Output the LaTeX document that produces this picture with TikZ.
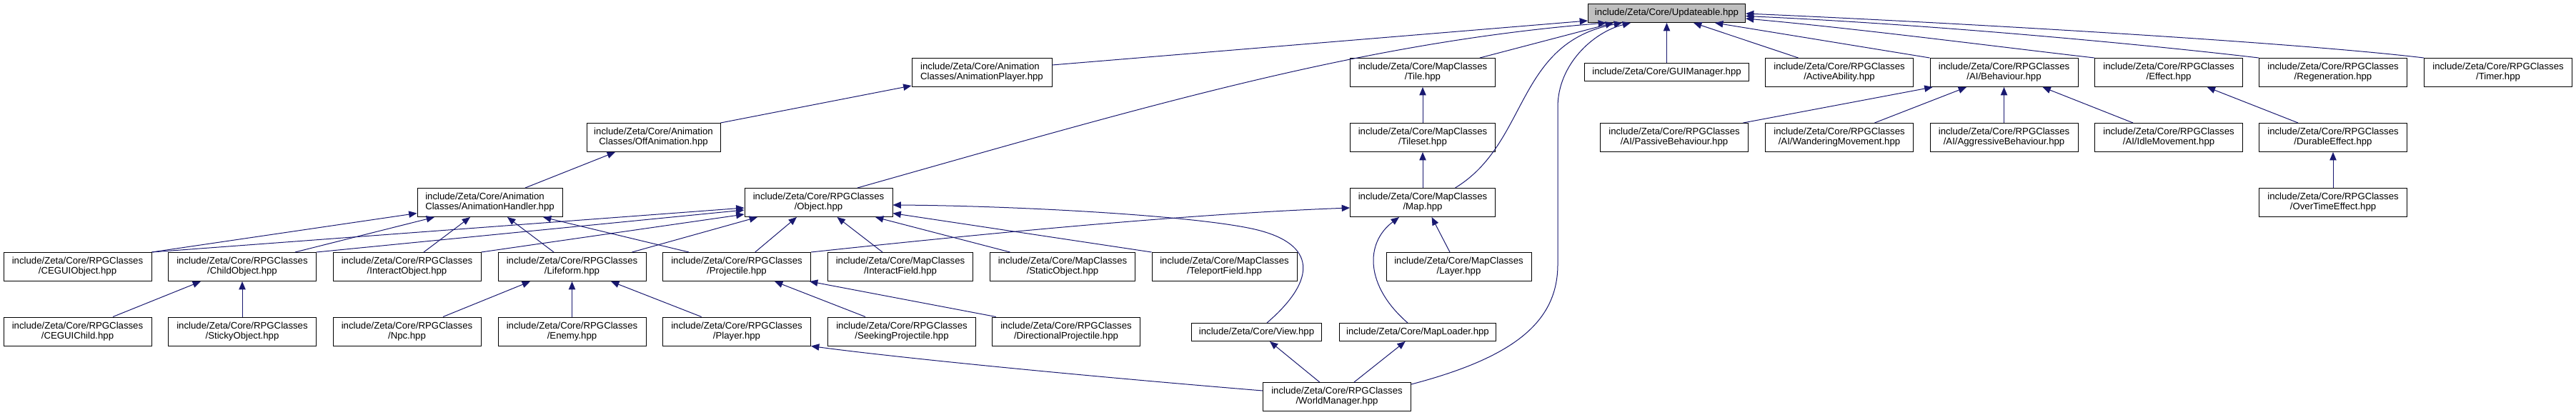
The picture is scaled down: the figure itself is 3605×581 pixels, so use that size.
\documentclass[tikz,border=0pt]{standalone}
\usepackage{fontspec}
\setmainfont{Liberation Sans}
\usetikzlibrary{arrows.meta}
\definecolor{edgeblue}{HTML}{191970}
\definecolor{rootgray}{HTML}{BFBFBF}
\begin{document}
\begin{tikzpicture}[x=0.75pt,y=-0.75pt,
  box/.style={draw=black, line width=0.75pt, fill=white, inner sep=0pt,
    minimum height=30pt, align=center, anchor=north west,
    font=\fontsize{9.9pt}{10.5pt}\selectfont},
  wa/.style={minimum width=155.25pt},
  wb/.style={minimum width=152.25pt},
  one/.style={minimum height=18.75pt},
  edge/.style={draw=edgeblue, line width=0.75pt, -{Triangle[length=8.5pt,width=7pt]}}
]
\useasboundingbox (0,0) rectangle (3605,581);
% row 0
\node[box,minimum width=165pt,minimum height=19.5pt,fill=rootgray] (upd) at (2222,5) {include/Zeta/Core/Updateable.hpp};
% row 1
\node[box,minimum width=147pt,align=left] (animplayer) at (1275.5,81) {include/Zeta/Core/Animation\\Classes/AnimationPlayer.hpp};
\node[box,wb] (tile) at (1889,81) {include/Zeta/Core/MapClasses\\/Tile.hpp};
\node[box,minimum width=172.5pt,one] (gui) at (2217,88) {include/Zeta/Core/GUIManager.hpp};
\node[box,wa] (active) at (2470,81) {include/Zeta/Core/RPGClasses\\/ActiveAbility.hpp};
\node[box,wa] (behav) at (2700.5,81) {include/Zeta/Core/RPGClasses\\/AI/Behaviour.hpp};
\node[box,wa] (effect) at (2931,81) {include/Zeta/Core/RPGClasses\\/Effect.hpp};
\node[box,wa] (regen) at (3161,81) {include/Zeta/Core/RPGClasses\\/Regeneration.hpp};
\node[box,wa] (timer) at (3392,81) {include/Zeta/Core/RPGClasses\\/Timer.hpp};
% row 2
\node[box,minimum width=140.25pt] (offanim) at (820.5,172) {include/Zeta/Core/Animation\\Classes/OffAnimation.hpp};
\node[box,wb] (tileset) at (1889,172) {include/Zeta/Core/MapClasses\\/Tileset.hpp};
\node[box,wa] (passive) at (2239,172) {include/Zeta/Core/RPGClasses\\/AI/PassiveBehaviour.hpp};
\node[box,wa] (wander) at (2470,172) {include/Zeta/Core/RPGClasses\\/AI/WanderingMovement.hpp};
\node[box,wa] (aggr) at (2700.5,172) {include/Zeta/Core/RPGClasses\\/AI/AggressiveBehaviour.hpp};
\node[box,wa] (idle) at (2931,172) {include/Zeta/Core/RPGClasses\\/AI/IdleMovement.hpp};
\node[box,wa] (durable) at (3161,172) {include/Zeta/Core/RPGClasses\\/DurableEffect.hpp};
% row 3
\node[box,wb,align=left] (animhandler) at (583.5,263) {include/Zeta/Core/Animation\\Classes/AnimationHandler.hpp};
\node[box,wa] (object) at (1041.5,263) {include/Zeta/Core/RPGClasses\\/Object.hpp};
\node[box,wb] (map) at (1889,263) {include/Zeta/Core/MapClasses\\/Map.hpp};
\node[box,wa] (overtime) at (3161,263) {include/Zeta/Core/RPGClasses\\/OverTimeEffect.hpp};
% row 4
\node[box,wa] (ceguiobj) at (4.5,353) {include/Zeta/Core/RPGClasses\\/CEGUIObject.hpp};
\node[box,wa] (childobj) at (235,353) {include/Zeta/Core/RPGClasses\\/ChildObject.hpp};
\node[box,wa] (interactobj) at (465.5,353) {include/Zeta/Core/RPGClasses\\/InteractObject.hpp};
\node[box,wa] (lifeform) at (696.5,353) {include/Zeta/Core/RPGClasses\\/Lifeform.hpp};
\node[box,wa] (projectile) at (927,353) {include/Zeta/Core/RPGClasses\\/Projectile.hpp};
\node[box,wb] (interactfield) at (1158,353) {include/Zeta/Core/MapClasses\\/InteractField.hpp};
\node[box,wb] (staticobj) at (1385,353) {include/Zeta/Core/MapClasses\\/StaticObject.hpp};
\node[box,wb] (teleport) at (1611.5,353) {include/Zeta/Core/MapClasses\\/TeleportField.hpp};
\node[box,wb] (layer) at (1939.5,353) {include/Zeta/Core/MapClasses\\/Layer.hpp};
% row 5
\node[box,wa] (ceguichild) at (4.5,443.5) {include/Zeta/Core/RPGClasses\\/CEGUIChild.hpp};
\node[box,wa] (sticky) at (235,443.5) {include/Zeta/Core/RPGClasses\\/StickyObject.hpp};
\node[box,wa] (npc) at (465.5,443.5) {include/Zeta/Core/RPGClasses\\/Npc.hpp};
\node[box,wa] (enemy) at (696.5,443.5) {include/Zeta/Core/RPGClasses\\/Enemy.hpp};
\node[box,wa] (player) at (927,443.5) {include/Zeta/Core/RPGClasses\\/Player.hpp};
\node[box,wa] (seeking) at (1158,443.5) {include/Zeta/Core/RPGClasses\\/SeekingProjectile.hpp};
\node[box,wa] (directional) at (1388,443.5) {include/Zeta/Core/RPGClasses\\/DirectionalProjectile.hpp};
\node[box,minimum width=136.5pt,one] (view) at (1667,452) {include/Zeta/Core/View.hpp};
\node[box,minimum width=164.25pt,one] (maploader) at (1874,452) {include/Zeta/Core/MapLoader.hpp};
% row 6
\node[box,wa] (world) at (1767,535) {include/Zeta/Core/RPGClasses\\/WorldManager.hpp};

% edges into Updateable
\draw[edge] ([shift={(0,10)}]animplayer.north east) -- ([shift={(0,24)}]upd.north west);
\draw[edge] ([shift={(158.5,0)}]object.north west) .. controls (1600,150) and (1900,60) .. ([shift={(26,0)}]upd.south west);
\draw[edge] ([shift={(182,0)}]tile.north west) -- ([shift={(36,0)}]upd.south west);
\draw[edge] ([shift={(147.5,0)}]map.north west) .. controls (2140,200) and (2120,60) .. ([shift={(48,0)}]upd.south west);
\draw[edge] ([shift={(0,3)}]world.north east) .. controls (2120,500) and (2180,450) .. (2180,370) -- (2180,150) .. controls (2180,90) and (2230,45) .. ([shift={(60,0)}]upd.south west);
\draw[edge] (gui.north) -- (upd.south);
\draw[edge] ([shift={(46.6,0)}]active.north west) -- ([shift={(148,0)}]upd.south west);
\draw[edge] (behav.north west) -- ([shift={(178,0)}]upd.south west);
\draw[edge] (effect.north west) .. controls (2800,66) and (2600,40) .. ([shift={(0,21)}]upd.north east);
\draw[edge] (regen.north west) .. controls (3000,62) and (2700,34) .. ([shift={(0,17.5)}]upd.north east);
\draw[edge] (timer.north west) .. controls (3200,58) and (2700,30) .. ([shift={(0,14)}]upd.north east);
% animation classes
\draw[edge] (offanim.north east) -- ([shift={(0,-2)}]animplayer.south west);
\draw[edge] ([shift={(151.5,0)}]animhandler.north west) -- ([shift={(40.5,0)}]offanim.south west);
\draw[edge] (ceguiobj.north east) -- ([shift={(0,35.5)}]animhandler.north west);
\draw[edge] ([shift={(178,0)}]childobj.north west) -- ([shift={(24.5,0)}]animhandler.south west);
\draw[edge] ([shift={(127.5,0)}]interactobj.north west) -- ([shift={(74.5,0)}]animhandler.south west);
\draw[edge] ([shift={(78.5,0)}]lifeform.north west) -- ([shift={(126.5,0)}]animhandler.south west);
\draw[edge] ([shift={(37,0)}]projectile.north west) -- ([shift={(176.5,0)}]animhandler.south west);
% into Object
\draw[edge] (ceguiobj.north east) -- ([shift={(0,28)}]object.north west);
\draw[edge] (childobj.north east) -- ([shift={(0,31)}]object.north west);
\draw[edge] (interactobj.north east) -- ([shift={(0,37)}]object.north west);
\draw[edge] ([shift={(188,0)}]lifeform.north west) -- ([shift={(18.5,0)}]object.south west);
\draw[edge] ([shift={(129.7,0)}]projectile.north west) -- ([shift={(73.5,0)}]object.south west);
\draw[edge] ([shift={(77,0)}]interactfield.north west) -- ([shift={(130,0)}]object.south west);
\draw[edge] ([shift={(28.5,0)}]staticobj.north west) -- ([shift={(183.5,0)}]object.south west);
\draw[edge] (teleport.north west) -- ([shift={(0,35.6)}]object.north east);
\draw[edge] ([shift={(106,0)}]view.north west) .. controls (1845,390) and (1840,342) .. (1760,322) .. controls (1680,302) and (1420,288) .. ([shift={(0,24)}]object.north east);
\draw[edge] (projectile.north east) .. controls (1350,330) and (1650,300) .. ([shift={(0,28)}]map.north west);
% lower rows
\draw[edge] ([shift={(153.5,0)}]ceguichild.north west) -- ([shift={(46,0)}]childobj.south west);
\draw[edge] (sticky.north) -- (childobj.south);
\draw[edge] ([shift={(154.5,0)}]npc.north west) -- ([shift={(45.5,0)}]lifeform.south west);
\draw[edge] (enemy.north) -- (lifeform.south);
\draw[edge] ([shift={(54.6,0)}]player.north west) -- ([shift={(158.5,0)}]lifeform.south west);
\draw[edge] ([shift={(53,0)}]seeking.north west) -- ([shift={(157,0)}]projectile.south west);
\draw[edge] ([shift={(5.7,0)}]directional.north west) -- ([shift={(-2,0)}]projectile.south east);
\draw[edge] ([shift={(0,12)}]world.north west) .. controls (1500,525) and (1250,500) .. (player.south east);
\draw[edge] ([shift={(79.7,0)}]world.north west) -- ([shift={(110,0)}]view.south west);
\draw[edge] ([shift={(128,0)}]world.north west) -- ([shift={(92.7,0)}]maploader.south west);
\draw[edge] ([shift={(96,0)}]maploader.north west) .. controls (1910,400) and (1910,340) .. ([shift={(69,0)}]map.south west);
\draw[edge] ([shift={(89.5,0)}]layer.north west) -- ([shift={(114.6,0)}]map.south west);
\draw[edge] (map.north) -- (tileset.south);
\draw[edge] (tileset.north) -- (tile.south);
% behaviour and effects
\draw[edge] ([shift={(200.5,0)}]passive.north west) -- ([shift={(4,0)}]behav.south west);
\draw[edge] ([shift={(153.4,0)}]wander.north west) -- ([shift={(51.5,0)}]behav.south west);
\draw[edge] (aggr.north) -- (behav.south);
\draw[edge] ([shift={(54,0)}]idle.north west) -- ([shift={(158,0)}]behav.south west);
\draw[edge] ([shift={(55,0)}]durable.north west) -- ([shift={(157.7,0)}]effect.south west);
\draw[edge] (overtime.north) -- (durable.south);
\end{tikzpicture}
\end{document}
